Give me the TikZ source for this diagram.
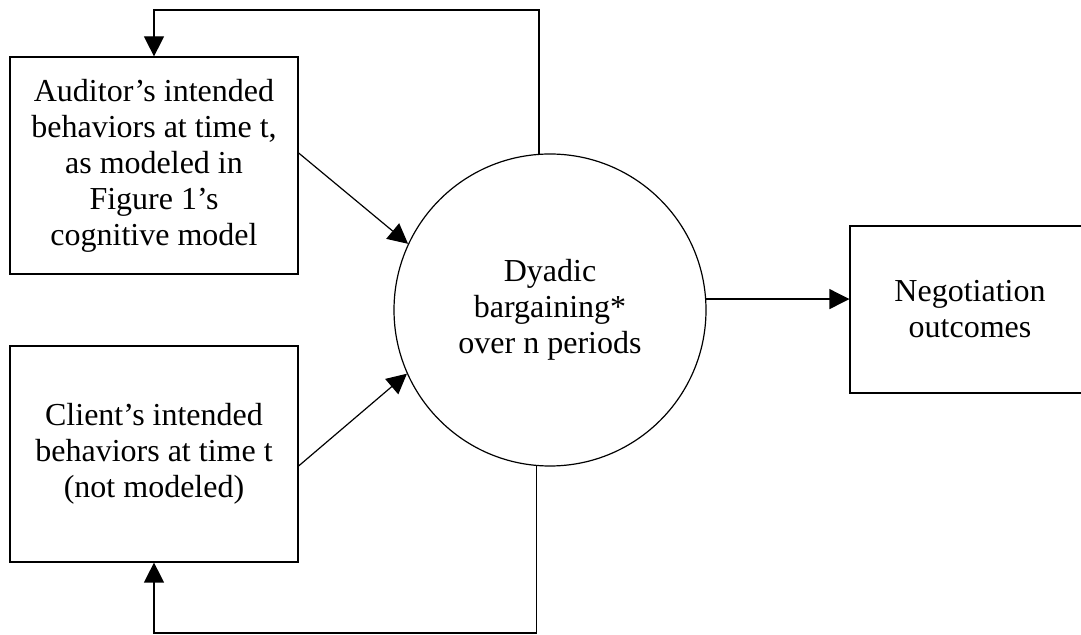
\documentclass[tikz,border=0pt]{standalone}
\usepackage{fontspec}
\setmainfont{Liberation Serif}
\usetikzlibrary{arrows.meta}
\begin{document}
\begin{tikzpicture}[x=0.75pt, y=0.75pt]

	\tikzstyle{intent_box} = [rectangle, draw=black, line width=0.9pt, align=center, inner sep=0pt, minimum width=216pt]
	\tikzstyle{bargain_circle} = [circle, draw=black, line width=0.9pt, align=center, inner sep=0pt, minimum size=234pt]
	\tikzstyle{outcome_box} = [rectangle, draw=black, line width=0.9pt, align=center, inner sep=0pt, minimum width=180pt, minimum height=125.25pt]
	\tikzstyle{flow} = [line width=0.9pt, -{Triangle[length=15pt, width=15pt]}]

	\useasboundingbox (0,0) rectangle (1081,635);
	\fontsize{24pt}{27pt}\selectfont

%------------------------------------------------------------
	\node[intent_box, minimum height=162.75pt] (auditor) at (154,469.5)
		{Auditor’s intended\\behaviors at time t,\\as modeled in\\Figure 1’s\\cognitive model};

	\node[intent_box, minimum height=162pt] (client) at (154,181)
		{Client’s intended\\behaviors at time t\\(not modeled)};

%------------------------------------------------------------

	\node[bargain_circle] (dyad) at (550,325) {Dyadic\\bargaining*\\over n periods};

	\node[outcome_box] (outcome) at (970,325.5) {Negotiation\\outcomes};

%------------------------------------------------------------

	\draw[flow] ([yshift=9.4pt]auditor.east) -- (dyad.155.5);
	\draw[flow] ([yshift=-9pt]client.east) -- (dyad.204.5);
	\draw[flow] (dyad.4.4) -- (dyad.4.4 -| outcome.west);

%------------------------------------------------------------

	\draw[flow] (dyad.94.4) -- (dyad.94.4 |- 0,625) -| (auditor.north);
	\draw[flow] (dyad.265.6) -- (dyad.265.6 |- 0,2) -| (client.south);

\end{tikzpicture}
\end{document}
